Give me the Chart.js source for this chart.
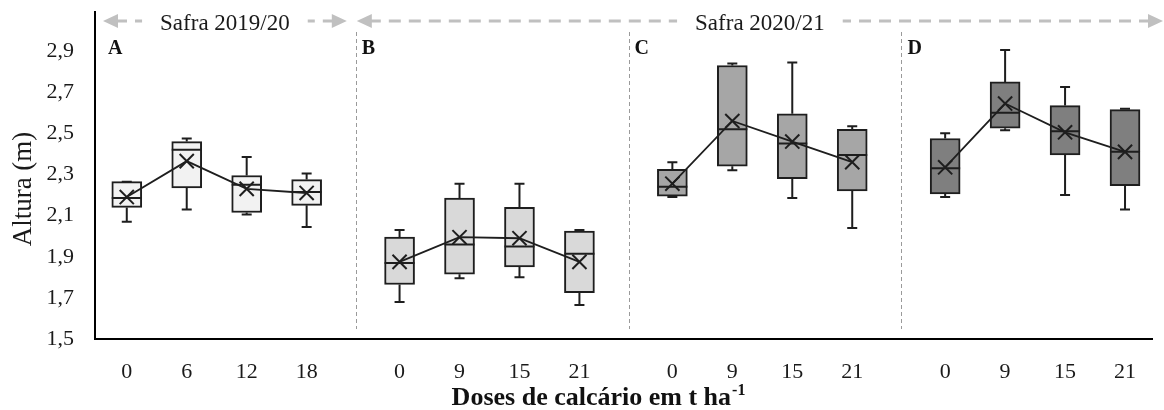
<!DOCTYPE html>
<html lang="pt-BR">
<head>
<meta charset="utf-8">
<title>Altura das plantas – doses de calcário</title>
<script src="https://cdn.jsdelivr.net/npm/chart.js@4"></script>
<style>
  html, body { margin: 0; padding: 0; background: #fff; overflow: hidden; }
  #wrap { position: relative; width: 1164px; height: 410px; }
</style>
</head>
<body>
<div id="wrap"><canvas id="grafico"></canvas></div>
<script>
// Doses de calcário (t/ha) de cada painel
const dosesA = ['0', '6', '12', '18'];
const dosesB = ['0', '9', '15', '21'];
const dosesC = ['0', '9', '15', '21'];
const dosesD = ['0', '9', '15', '21'];

// Altura (m) por dose: [mínimo, Q1, mediana, Q3, máximo]
const boxesA = [
  [2.07, 2.14, 2.185, 2.265, 2.265],
  [2.13, 2.235, 2.42, 2.46, 2.475],
  [2.105, 2.115, 2.25, 2.295, 2.385],
  [2.045, 2.15, 2.215, 2.275, 2.305]
];
const boxesB = [
  [1.68, 1.765, 1.87, 1.995, 2.03],
  [1.795, 1.815, 1.96, 2.185, 2.255],
  [1.80, 1.85, 1.95, 2.14, 2.255],
  [1.665, 1.725, 1.915, 2.025, 2.03]
];
const boxesC = [
  [2.19, 2.195, 2.24, 2.325, 2.36],
  [2.32, 2.34, 2.52, 2.83, 2.84],
  [2.185, 2.28, 2.45, 2.595, 2.845],
  [2.04, 2.22, 2.395, 2.52, 2.535]
];
const boxesD = [
  [2.19, 2.205, 2.33, 2.475, 2.50],
  [2.515, 2.525, 2.60, 2.75, 2.905],
  [2.20, 2.395, 2.51, 2.635, 2.725],
  [2.13, 2.245, 2.41, 2.615, 2.62]
];

// Médias (×)
const meansA = [2.19, 2.365, 2.23, 2.21];
const meansB = [1.875, 1.995, 1.99, 1.875];
const meansC = [2.255, 2.56, 2.46, 2.36];
const meansD = [2.335, 2.645, 2.505, 2.41];

const yTicks = [1.5, 1.7, 1.9, 2.1, 2.3, 2.5, 2.7, 2.9];
const panelLetters = ['A', 'B', 'C', 'D'];
const seasonLabels = ['Safra 2019/20', 'Safra 2020/21'];
const yTitle = 'Altura (m)';
const xTitle = 'Doses de calcário em t ha';
const xTitleSup = '-1';

// ---- layout / style ----
const PANEL_STRIDE = 4.55;          // distance between panels, in box units
const fills = ['#f2f2f2', '#d9d9d9', '#a6a6a6', '#7f7f7f'];
const ink = '#1e1e1e';
const SERIF = '"Liberation Serif", "Times New Roman", serif';

const panels = [
  { doses: dosesA, boxes: boxesA, means: meansA },
  { doses: dosesB, boxes: boxesB, means: meansB },
  { doses: dosesC, boxes: boxesC, means: meansC },
  { doses: dosesD, boxes: boxesD, means: meansD }
];
const posOf = (p, i) => p * PANEL_STRIDE + i;

const tickPositions = [];
const tickLabels = {};
const datasets = [];
panels.forEach((pn, p) => {
  pn.doses.forEach((d, i) => {
    tickPositions.push(posOf(p, i));
    tickLabels[posOf(p, i).toFixed(2)] = d;
  });
  datasets.push({
    type: 'bar',
    data: pn.boxes.map((b, i) => ({ x: posOf(p, i), y: [b[1], b[3]] })),
    boxes: pn.boxes,
    panel: p,
    backgroundColor: fills[p],
    borderColor: ink,
    borderWidth: 2,
    borderSkipped: false,
    barThickness: 30,
    grouped: false,
    order: 2
  });
  datasets.push({
    type: 'line',
    data: pn.means.map((m, i) => ({ x: posOf(p, i), y: m })),
    borderColor: ink,
    borderWidth: 1.8,
    pointStyle: 'crossRot',
    pointRadius: 10,
    pointBorderWidth: 2,
    pointBorderColor: ink,
    pointBackgroundColor: ink,
    fill: false,
    tension: 0,
    order: 1
  });
});

// whiskers, caps and median of each box
const boxExtras = {
  id: 'boxExtras',
  afterDatasetDraw(chart, args) {
    const ds = chart.data.datasets[args.index];
    if (ds.type !== 'bar') return;
    const { ctx, scales: { x, y } } = chart;
    ctx.save();
    ctx.strokeStyle = ink;
    ctx.lineWidth = 2;
    ctx.setLineDash([]);
    ds.boxes.forEach((b, i) => {
      const px = x.getPixelForValue(posOf(ds.panel, i));
      const [mn, q1, md, q3, mx] = b.map(v => y.getPixelForValue(v));
      ctx.beginPath();
      ctx.moveTo(px, q1); ctx.lineTo(px, mn);
      ctx.moveTo(px - 5, mn); ctx.lineTo(px + 5, mn);
      ctx.moveTo(px, q3); ctx.lineTo(px, mx);
      ctx.moveTo(px - 5, mx); ctx.lineTo(px + 5, mx);
      ctx.moveTo(px - 15, md); ctx.lineTo(px + 15, md);
      ctx.stroke();
    });
    ctx.restore();
  }
};

// panel separators, season headers, panel letters and axis titles
const decorations = {
  id: 'decorations',
  beforeDatasetsDraw(chart) {
    const { ctx, scales: { x } } = chart;
    ctx.save();
    ctx.strokeStyle = '#9a9a9a';
    ctx.lineWidth = 1;
    ctx.setLineDash([4, 3]);
    for (let p = 1; p < panels.length; p++) {
      const sx = Math.round(x.getPixelForValue(p * PANEL_STRIDE - 0.73)) + 0.5;
      ctx.beginPath();
      ctx.moveTo(sx, 32);
      ctx.lineTo(sx, 329);
      ctx.stroke();
    }
    ctx.restore();
  },
  afterDraw(chart) {
    const { ctx, chartArea, scales: { x } } = chart;
    const sep = p => x.getPixelForValue(p * PANEL_STRIDE - 0.73);

    // season headers
    const arrowY = 21;
    const drawHead = (tip, dir) => {
      ctx.beginPath();
      ctx.moveTo(tip, arrowY);
      ctx.lineTo(tip - dir * 15, arrowY - 7);
      ctx.lineTo(tip - dir * 15, arrowY + 7);
      ctx.closePath();
      ctx.fill();
    };
    const drawSeason = (label, x0, x1) => {
      const cx = (x0 + x1) / 2;
      ctx.font = '23px ' + SERIF;
      const w = ctx.measureText(label).width;
      ctx.fillStyle = '#c0c0c0';
      ctx.strokeStyle = '#c0c0c0';
      ctx.lineWidth = 3;
      ctx.setLineDash([12, 8]);
      ctx.beginPath();
      ctx.moveTo(x0 + 12, arrowY);
      ctx.lineTo(cx - w / 2 - 18, arrowY);
      ctx.stroke();
      ctx.beginPath();
      ctx.moveTo(x1 - 12, arrowY);
      ctx.lineTo(cx + w / 2 + 18, arrowY);
      ctx.stroke();
      ctx.setLineDash([]);
      drawHead(x0, -1);
      drawHead(x1, 1);
      ctx.fillStyle = '#1a1a1a';
      ctx.textAlign = 'center';
      ctx.textBaseline = 'alphabetic';
      ctx.fillText(label, cx, 30);
    };
    ctx.save();
    drawSeason(seasonLabels[0], chartArea.left + 8, sep(1) - 9);
    drawSeason(seasonLabels[1], sep(1) + 1, chart.width - 1);

    // panel letters
    ctx.font = 'bold 20px ' + SERIF;
    ctx.fillStyle = '#111';
    ctx.textAlign = 'left';
    ctx.textBaseline = 'alphabetic';
    panelLetters.forEach((L, p) => {
      const lx = p === 0 ? chartArea.left + 13 : sep(p) + 6;
      ctx.fillText(L, lx, 54);
    });

    // y axis title
    ctx.save();
    ctx.translate(24, 189);
    ctx.rotate(-Math.PI / 2);
    ctx.font = '27px ' + SERIF;
    ctx.fillStyle = '#1a1a1a';
    ctx.textAlign = 'center';
    ctx.textBaseline = 'middle';
    ctx.fillText(yTitle, 0, 0);
    ctx.restore();

    // x axis title with superscript
    ctx.textAlign = 'left';
    ctx.textBaseline = 'alphabetic';
    ctx.font = 'bold 26px ' + SERIF;
    const wMain = ctx.measureText(xTitle).width;
    ctx.font = 'bold 16px ' + SERIF;
    const wSup = ctx.measureText(xTitleSup).width;
    const tx = chart.width / 2 + 16 - (wMain + wSup) / 2;
    ctx.fillStyle = '#111';
    ctx.font = 'bold 26px ' + SERIF;
    ctx.fillText(xTitle, tx, 405);
    ctx.font = 'bold 16px ' + SERIF;
    ctx.fillText(xTitleSup, tx + wMain + 1, 395);
    ctx.restore();
  }
};

new Chart(document.getElementById('grafico'), {
  type: 'bar',
  data: { datasets },
  options: {
    responsive: true,
    maintainAspectRatio: false,
    animation: false,
    layout: { padding: { top: 10, right: 1, bottom: 0, left: 0 } },
    plugins: {
      legend: { display: false },
      tooltip: { enabled: false }
    },
    scales: {
      x: {
        type: 'linear',
        offset: false,
        min: -0.53,
        max: 3 * PANEL_STRIDE + 3 + 0.45,
        grid: { display: false },
        border: { display: true, color: '#000', width: 2 },
        afterBuildTicks(scale) {
          scale.ticks = tickPositions.map(v => ({ value: v }));
        },
        afterFit(scale) {
          scale.height = 71;
          scale.paddingLeft = 0;
          scale.paddingRight = 0;
        },
        ticks: {
          autoSkip: false,
          maxRotation: 0,
          padding: 12,
          color: '#1a1a1a',
          font: { family: SERIF, size: 22 },
          callback: v => tickLabels[Number(v).toFixed(2)] ?? ''
        }
      },
      y: {
        type: 'linear',
        min: 1.5,
        max: 3.09,
        grid: { display: false },
        border: { display: true, color: '#000', width: 2 },
        afterBuildTicks(scale) {
          scale.ticks = yTicks.map(v => ({ value: v }));
        },
        afterFit(scale) {
          scale.width = 95;
          scale.paddingTop = 0;
          scale.paddingBottom = 0;
        },
        ticks: {
          padding: 13,
          color: '#1a1a1a',
          font: { family: SERIF, size: 22 },
          callback: v => Number(v).toFixed(1).replace('.', ',')
        }
      }
    }
  },
  plugins: [boxExtras, decorations]
});
</script>
</body>
</html>
